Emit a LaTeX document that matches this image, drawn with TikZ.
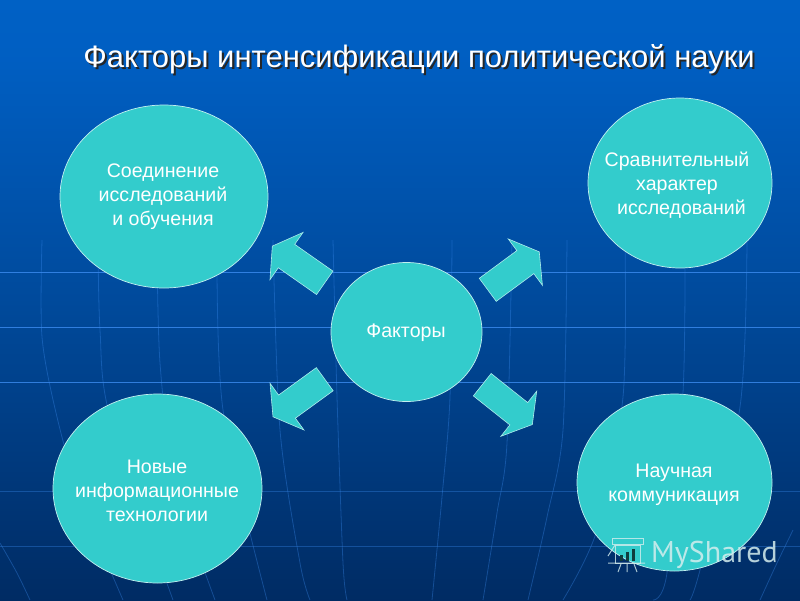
\documentclass[tikz,border=0pt]{standalone}
\usepackage{fontspec}
\setmainfont{Liberation Sans}
\newfontfamily\markfont{PT Sans}
\usetikzlibrary{shapes.arrows,shapes.geometric}
\definecolor{teal}{HTML}{33CCCC}
\definecolor{gridblue}{HTML}{3C8CF0}
\definecolor{markcol}{HTML}{D5EEEE}
\pgfdeclareverticalshading{slidebg}{100bp}{
  rgb(0bp)=(0,0.118,0.30);
  rgb(25bp)=(0,0.17,0.39);
  rgb(50bp)=(0,0.29,0.61);
  rgb(70bp)=(0,0.37,0.76);
  rgb(85bp)=(0,0.40,0.80);
  rgb(100bp)=(0,0.40,0.80)}
\newcommand\shadowed[1]{\rlap{\kern2pt\raisebox{-2pt}{\color{black!85}#1}}#1}
\newcommand\globeline[1]{\draw[faintline] plot[smooth] coordinates {#1};}
\tikzset{
  factor/.style={ellipse,draw=white!70!teal,fill=teal,line width=0.7pt,inner sep=0pt},
  blockarrow/.style={single arrow,draw=white!60!teal,fill=teal,line width=0.6pt,
    inner xsep=0pt,inner ysep=14pt,minimum height=64pt,minimum width=57pt,
    single arrow head extend=14.5pt,single arrow tip angle=118,anchor=tail},
  caption/.style={text=white,align=center,font=\fontsize{19.6}{24}\selectfont},
  gridline/.style={gridblue,line width=1pt,opacity=0.8},
  faintline/.style={gridblue,line width=0.8pt,opacity=0.35},
}
\begin{document}
\begin{tikzpicture}[x=1pt,y=-1pt]
\useasboundingbox (0,0) rectangle (800,600);
\path[shading=slidebg,shading angle=0] (0,0) rectangle (800,600);
% globe
\foreach \yy in {272,327,382} \draw[gridline] (0,\yy) -- (800,\yy);
\foreach \yy in {491,546} \draw[faintline] (0,\yy) -- (800,\yy);
\globeline{(42,240) (42,337) (57,417) (80,497) (123,600)}
\globeline{(98,240) (100,330) (110,417) (173,600)}
\globeline{(157,240) (160,363) (175,480) (215,600)}
\globeline{(217,240) (223,410) (267,600)}
\globeline{(273,240) (280,430) (300,563) (310,600)}
\globeline{(333,240) (337,397) (343,563) (347,600)}
\globeline{(452,240) (450,397) (442,497) (432,600)}
\globeline{(512,240) (507,443) (497,513) (483,600)}
\globeline{(567,240) (563,430) (547,517) (528,600)}
\globeline{(625,240) (623,397) (597,530) (563,600)}
\globeline{(685,240) (683,393) (667,573) (653,600)}
\globeline{(747,240) (740,407) (700,570) (690,600)}
\globeline{(0,543) (17,573) (30,600)}
\globeline{(793,530) (777,563) (760,600)}
% title
\node[text=white,font=\fontsize{31}{36}\selectfont] (title) at (419,60) {\shadowed{Факторы интенсификации политической науки}};
% factors
\node[factor,minimum width=151pt,minimum height=139pt] (center) at (406.5,332) {};
\node[factor,minimum width=208pt,minimum height=183pt] (study) at (164,196.5) {};
\node[factor,minimum width=184pt,minimum height=170pt] (compare) at (680,183) {};
\node[factor,minimum width=209pt,minimum height=189pt] (tech) at (157.5,488.5) {};
\node[factor,minimum width=195pt,minimum height=177pt] (comm) at (674.5,482.5) {};
\node[caption] (centerlabel) at (406,333) {Факторы};
\node[caption] (studylabel) at (163,197) {Соединение\hspace{7pt}\\исследований\\и обучения};
\node[caption] (comparelabel) at (677,185) {Сравнительный\\характер\\\hspace{9pt}исследований};
\node[caption] (techlabel) at (157,491) {Новые\\информационные\\технологии};
\node[caption] (commlabel) at (674,484.5) {Научная\hspace{8pt}\\коммуникация};
% arrows
\node[blockarrow,rotate=145] (arrowtl) at (325,283) {};
\node[blockarrow,rotate=36.4] (arrowtr) at (487.5,290) {};
\node[blockarrow,rotate=216] (arrowbl) at (325,379) {};
\node[blockarrow,rotate=-38.5] (arrowbr) at (482,384.5) {};
% watermark
\node[text=markcol,opacity=0.85,font=\markfont\fontsize{30}{30}\selectfont,anchor=west,inner sep=0pt] (mark) at (651,555) {MyShared};
\begin{scope}[markcol,line width=1pt,opacity=0.8]
\draw (615,545) rectangle (640,563);
\draw (612,538) -- (643,538) -- (643,544) -- (612,544) -- cycle;
\draw (608,556) -- (615,545) (608,563) -- (645,563);
\draw (621,564) -- (618,572) (627,564) -- (627,572) (634,564) -- (637,572);
\end{scope}
\draw[teal!30!black,line width=3pt] (621,561) -- (621,555) (627,561) -- (627,552) (633,561) -- (633,549);
\end{tikzpicture}
\end{document}
